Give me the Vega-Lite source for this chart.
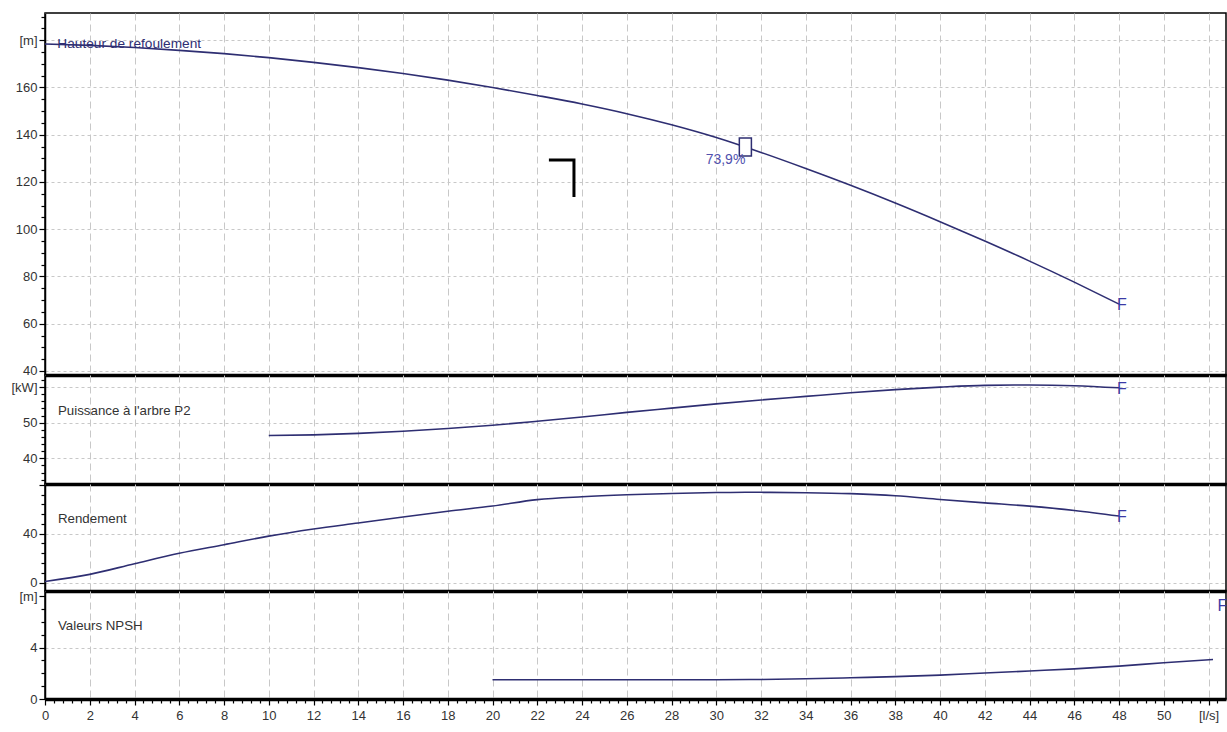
{
  "$schema": "https://vega.github.io/schema/vega-lite/v6.json",
  "background": "white",
  "padding": {"left": 6, "top": 12, "right": 2, "bottom": 0},
  "spacing": 0,
  "bounds": "flush",
  "config": {
    "font": "Liberation Sans, Arial, sans-serif",
    "view": {"stroke": "black", "strokeWidth": 1.5},
    "axis": {
      "title": null,
      "domainColor": "black",
      "domainWidth": 1.5,
      "tickColor": "black",
      "tickWidth": 1.2,
      "tickCount": 500,
      "labelColor": "#333333",
      "labelFontSize": 13,
      "labelOverlap": false,
      "labelFlush": false,
      "labelBound": false,
      "gridColor": "#c8c8c8",
      "gridWidth": 1,
      "gridDash": [3, 3]
    }
  },
  "datasets": {
    "head": [
      {"q": 0, "h": 178.4}, {"q": 2, "h": 177.8}, {"q": 4, "h": 176.9}, {"q": 6, "h": 175.7},
      {"q": 8, "h": 174.3}, {"q": 10, "h": 172.6}, {"q": 12, "h": 170.6}, {"q": 14, "h": 168.4},
      {"q": 16, "h": 165.9}, {"q": 18, "h": 163.1}, {"q": 20, "h": 160.0}, {"q": 22, "h": 156.6},
      {"q": 24, "h": 153.0}, {"q": 26, "h": 148.9}, {"q": 28, "h": 144.2}, {"q": 30, "h": 138.8},
      {"q": 32, "h": 132.5}, {"q": 34, "h": 125.7}, {"q": 36, "h": 118.6}, {"q": 38, "h": 111.1},
      {"q": 40, "h": 103.2}, {"q": 42, "h": 95.0}, {"q": 44, "h": 86.5}, {"q": 46, "h": 77.6},
      {"q": 48, "h": 68.3}
    ],
    "power": [
      {"q": 10, "p": 46.4}, {"q": 12, "p": 46.6}, {"q": 14, "p": 47.0}, {"q": 16, "p": 47.6},
      {"q": 18, "p": 48.4}, {"q": 20, "p": 49.3}, {"q": 22, "p": 50.4}, {"q": 24, "p": 51.6},
      {"q": 26, "p": 52.9}, {"q": 28, "p": 54.1}, {"q": 30, "p": 55.3}, {"q": 32, "p": 56.4},
      {"q": 34, "p": 57.4}, {"q": 36, "p": 58.4}, {"q": 38, "p": 59.3}, {"q": 40, "p": 60.0},
      {"q": 42, "p": 60.5}, {"q": 44, "p": 60.6}, {"q": 46, "p": 60.4}, {"q": 48, "p": 59.8}
    ],
    "eff": [
      {"q": 0, "e": 1.0}, {"q": 2, "e": 6.8}, {"q": 4, "e": 15.5}, {"q": 6, "e": 24.0},
      {"q": 8, "e": 31.0}, {"q": 10, "e": 38.0}, {"q": 12, "e": 43.8}, {"q": 14, "e": 48.7},
      {"q": 16, "e": 53.6}, {"q": 18, "e": 58.3}, {"q": 20, "e": 62.6}, {"q": 22, "e": 67.8},
      {"q": 24, "e": 70.2}, {"q": 26, "e": 71.8}, {"q": 28, "e": 72.9}, {"q": 30, "e": 73.6},
      {"q": 31.3, "e": 73.9}, {"q": 32, "e": 73.8}, {"q": 34, "e": 73.5}, {"q": 36, "e": 72.7},
      {"q": 38, "e": 71.0}, {"q": 40, "e": 68.0}, {"q": 42, "e": 65.2}, {"q": 44, "e": 62.5},
      {"q": 46, "e": 59.0}, {"q": 48, "e": 54.4}
    ],
    "npsh": [
      {"q": 20, "n": 1.5}, {"q": 22, "n": 1.5}, {"q": 24, "n": 1.5}, {"q": 26, "n": 1.5},
      {"q": 28, "n": 1.5}, {"q": 30, "n": 1.5}, {"q": 32, "n": 1.52}, {"q": 34, "n": 1.57},
      {"q": 36, "n": 1.65}, {"q": 38, "n": 1.74}, {"q": 40, "n": 1.86}, {"q": 42, "n": 2.02},
      {"q": 44, "n": 2.18}, {"q": 46, "n": 2.34}, {"q": 48, "n": 2.56}, {"q": 50, "n": 2.82},
      {"q": 52.2, "n": 3.07}
    ],
    "bep": [{"q": 31.3, "h": 134.8, "eff": 73.9}],
    "cursor": [{"q": 22.52, "h": 129.3}, {"q": 23.64, "h": 129.3}, {"q": 23.64, "h": 113.6}],
    "one": [{}]
  },
  "vconcat": [
    {
      "width": 1181,
      "height": 362,
      "layer": [
        {
          "data": {"name": "head"},
          "mark": {"type": "line", "color": "#2e2e72", "strokeWidth": 1.6, "interpolate": "monotone"},
          "encoding": {
            "x": {
              "field": "q", "type": "quantitative",
              "scale": {"domain": [0, 52.78], "nice": false, "zero": false},
              "axis": {
                "values": [0, 2, 4, 6, 8, 10, 12, 14, 16, 18, 20, 22, 24, 26, 28, 30, 32, 34, 36, 38, 40, 42, 44, 46, 48, 50, 52],
                "labels": false, "ticks": false, "domainWidth": 3.5, "gridDash": [7, 4],
                "minExtent": 0, "maxExtent": 0
              }
            },
            "y": {
              "field": "h", "type": "quantitative",
              "scale": {"domain": [38.3, 191.5], "nice": false, "zero": false},
              "axis": {
                "values": [40, 45, 50, 55, 60, 65, 70, 75, 80, 85, 90, 95, 100, 105, 110, 115, 120, 125, 130, 135, 140, 145, 150, 155, 160, 165, 170, 175, 180, 185, 190],
                "labelExpr": "datum.value % 20 === 0 ? (datum.value === 180 ? '[m]' : '' + datum.value) : ''",
                "labelFontSize": {"condition": {"test": "datum.value % 20 === 0", "value": 13}, "value": 0},
                "tickSize": {"condition": {"test": "datum.value % 20 === 0", "value": 6}, "value": 4},
                "gridOpacity": {"condition": {"test": "datum.value % 20 === 0", "value": 1}, "value": 0},
                "labelPadding": 2, "minExtent": 38, "maxExtent": 38
              }
            }
          }
        },
        {
          "data": {"name": "head"},
          "transform": [{"filter": "datum.q === 48"}],
          "mark": {"type": "text", "text": "F", "align": "left", "baseline": "middle", "dx": -2, "dy": 1, "fontSize": 16, "color": "#3a3aa6"},
          "encoding": {"x": {"field": "q", "type": "quantitative"}, "y": {"field": "h", "type": "quantitative"}}
        },
        {
          "data": {"name": "cursor"},
          "mark": {"type": "line", "color": "black", "strokeWidth": 3, "strokeJoin": "miter", "strokeCap": "butt"},
          "encoding": {
            "x": {"field": "q", "type": "quantitative"},
            "y": {"field": "h", "type": "quantitative"},
            "order": {"value": null}
          }
        },
        {
          "data": {"name": "bep"},
          "mark": {"type": "point", "shape": "M-0.67,-1H0.67V1H-0.67Z", "size": 324, "filled": false, "fill": "white", "fillOpacity": 1, "stroke": "#2e2e72", "strokeWidth": 1.5, "opacity": 1},
          "encoding": {"x": {"field": "q", "type": "quantitative"}, "y": {"field": "h", "type": "quantitative"}}
        },
        {
          "data": {"name": "bep"},
          "transform": [{"calculate": "replace(format(datum.eff, '.1f'), '.', ',') + '%'", "as": "lbl"}],
          "mark": {"type": "text", "align": "right", "baseline": "top", "dx": 0, "dy": 6, "fontSize": 14, "color": "#5050ad"},
          "encoding": {
            "x": {"field": "q", "type": "quantitative"},
            "y": {"field": "h", "type": "quantitative"},
            "text": {"field": "lbl"}
          }
        },
        {
          "data": {"name": "one"},
          "mark": {"type": "text", "text": "Hauteur de refoulement", "align": "left", "baseline": "middle", "fontSize": 13.7, "color": "#2e2e72"},
          "encoding": {"x": {"datum": 0.55, "type": "quantitative"}, "y": {"datum": 178.3, "type": "quantitative"}}
        }
      ]
    },
    {
      "width": 1181,
      "height": 109,
      "layer": [
        {
          "data": {"name": "power"},
          "mark": {"type": "line", "color": "#2e2e72", "strokeWidth": 1.6, "interpolate": "monotone"},
          "encoding": {
            "x": {
              "field": "q", "type": "quantitative",
              "scale": {"domain": [0, 52.78], "nice": false, "zero": false},
              "axis": {
                "values": [0, 2, 4, 6, 8, 10, 12, 14, 16, 18, 20, 22, 24, 26, 28, 30, 32, 34, 36, 38, 40, 42, 44, 46, 48, 50, 52],
                "labels": false, "ticks": false, "domainWidth": 3.5, "gridDash": [7, 4],
                "minExtent": 0, "maxExtent": 0
              }
            },
            "y": {
              "field": "p", "type": "quantitative",
              "scale": {"domain": [32.8, 63.4], "nice": false, "zero": false},
              "axis": {
                "values": [34, 36, 38, 40, 42, 44, 46, 48, 50, 52, 54, 56, 58, 60, 62],
                "labelExpr": "datum.value % 10 === 0 ? (datum.value === 60 ? '[kW]' : '' + datum.value) : ''",
                "labelFontSize": {"condition": {"test": "datum.value % 10 === 0", "value": 13}, "value": 0},
                "tickSize": {"condition": {"test": "datum.value % 10 === 0", "value": 6}, "value": 4},
                "gridOpacity": {"condition": {"test": "datum.value % 10 === 0", "value": 1}, "value": 0},
                "labelPadding": 2, "minExtent": 38, "maxExtent": 38
              }
            }
          }
        },
        {
          "data": {"name": "power"},
          "transform": [{"filter": "datum.q === 48"}],
          "mark": {"type": "text", "text": "F", "align": "left", "baseline": "middle", "dx": -2, "dy": 1, "fontSize": 16, "color": "#3a3aa6"},
          "encoding": {"x": {"field": "q", "type": "quantitative"}, "y": {"field": "p", "type": "quantitative"}}
        },
        {
          "data": {"name": "one"},
          "mark": {"type": "text", "text": "Puissance à l'arbre P2", "align": "left", "baseline": "middle", "fontSize": 13.3, "color": "#333333"},
          "encoding": {"x": {"datum": 0.58, "type": "quantitative"}, "y": {"datum": 53.3, "type": "quantitative"}}
        }
      ]
    },
    {
      "width": 1181,
      "height": 107,
      "layer": [
        {
          "data": {"name": "eff"},
          "mark": {"type": "line", "color": "#2e2e72", "strokeWidth": 1.6, "interpolate": "monotone"},
          "encoding": {
            "x": {
              "field": "q", "type": "quantitative",
              "scale": {"domain": [0, 52.78], "nice": false, "zero": false},
              "axis": {
                "values": [0, 2, 4, 6, 8, 10, 12, 14, 16, 18, 20, 22, 24, 26, 28, 30, 32, 34, 36, 38, 40, 42, 44, 46, 48, 50, 52],
                "labels": false, "ticks": false, "domainWidth": 3.5, "gridDash": [7, 4],
                "minExtent": 0, "maxExtent": 0
              }
            },
            "y": {
              "field": "e", "type": "quantitative",
              "scale": {"domain": [-6.8, 80.6], "nice": false, "zero": false},
              "axis": {
                "values": [0, 8, 16, 24, 32, 40, 48, 56, 64, 72, 80],
                "labelExpr": "datum.value === 0 || datum.value === 40 ? '' + datum.value : ''",
                "labelFontSize": {"condition": {"test": "datum.value === 0 || datum.value === 40", "value": 13}, "value": 0},
                "tickSize": {"condition": {"test": "datum.value % 40 === 0", "value": 6}, "value": 4},
                "gridOpacity": {"condition": {"test": "datum.value === 0 || datum.value === 40", "value": 1}, "value": 0},
                "labelPadding": 2, "minExtent": 38, "maxExtent": 38
              }
            }
          }
        },
        {
          "data": {"name": "eff"},
          "transform": [{"filter": "datum.q === 48"}],
          "mark": {"type": "text", "text": "F", "align": "left", "baseline": "middle", "dx": -2, "dy": 1, "fontSize": 16, "color": "#3a3aa6"},
          "encoding": {"x": {"field": "q", "type": "quantitative"}, "y": {"field": "e", "type": "quantitative"}}
        },
        {
          "data": {"name": "one"},
          "mark": {"type": "text", "text": "Rendement", "align": "left", "baseline": "middle", "fontSize": 13.3, "color": "#333333"},
          "encoding": {"x": {"datum": 0.58, "type": "quantitative"}, "y": {"datum": 52.4, "type": "quantitative"}}
        }
      ]
    },
    {
      "width": 1181,
      "height": 108,
      "layer": [
        {
          "data": {"name": "npsh"},
          "mark": {"type": "line", "color": "#2e2e72", "strokeWidth": 1.6, "interpolate": "monotone"},
          "encoding": {
            "x": {
              "field": "q", "type": "quantitative",
              "scale": {"domain": [0, 52.78], "nice": false, "zero": false},
              "axis": {
                "values": [0, 0.4, 0.8, 1.2, 1.6, 2, 2.4, 2.8, 3.2, 3.6, 4, 4.4, 4.8, 5.2, 5.6, 6, 6.4, 6.8, 7.2, 7.6, 8, 8.4, 8.8, 9.2, 9.6, 10, 10.4, 10.8, 11.2, 11.6, 12, 12.4, 12.8, 13.2, 13.6, 14, 14.4, 14.8, 15.2, 15.6, 16, 16.4, 16.8, 17.2, 17.6, 18, 18.4, 18.8, 19.2, 19.6, 20, 20.4, 20.8, 21.2, 21.6, 22, 22.4, 22.8, 23.2, 23.6, 24, 24.4, 24.8, 25.2, 25.6, 26, 26.4, 26.8, 27.2, 27.6, 28, 28.4, 28.8, 29.2, 29.6, 30, 30.4, 30.8, 31.2, 31.6, 32, 32.4, 32.8, 33.2, 33.6, 34, 34.4, 34.8, 35.2, 35.6, 36, 36.4, 36.8, 37.2, 37.6, 38, 38.4, 38.8, 39.2, 39.6, 40, 40.4, 40.8, 41.2, 41.6, 42, 42.4, 42.8, 43.2, 43.6, 44, 44.4, 44.8, 45.2, 45.6, 46, 46.4, 46.8, 47.2, 47.6, 48, 48.4, 48.8, 49.2, 49.6, 50, 50.4, 50.8, 51.2, 51.6, 52, 52.4],
                "labelExpr": "datum.value % 2 === 0 ? (datum.value === 52 ? '[l/s]' : '' + datum.value) : ''",
                "labelFontSize": {"condition": {"test": "datum.value % 2 === 0", "value": 13}, "value": 0},
                "tickSize": {"condition": {"test": "datum.value % 2 === 0", "value": 6}, "value": 4},
                "gridOpacity": {"condition": {"test": "datum.value % 2 === 0", "value": 1}, "value": 0},
                "domainWidth": 3.5, "gridDash": [7, 4], "labelPadding": 4
              }
            },
            "y": {
              "field": "n", "type": "quantitative",
              "scale": {"domain": [0, 8.4], "nice": false, "zero": false},
              "axis": {
                "values": [0, 1, 2, 3, 4, 5, 6, 7, 8],
                "labelExpr": "datum.value % 4 === 0 ? (datum.value === 8 ? '[m]' : '' + datum.value) : ''",
                "labelFontSize": {"condition": {"test": "datum.value % 4 === 0", "value": 13}, "value": 0},
                "tickSize": {"condition": {"test": "datum.value % 4 === 0", "value": 6}, "value": 4},
                "gridOpacity": {"condition": {"test": "datum.value === 4", "value": 1}, "value": 0},
                "labelPadding": 2, "minExtent": 38, "maxExtent": 38
              }
            }
          }
        },
        {
          "data": {"name": "one"},
          "mark": {"type": "text", "text": "F", "align": "left", "baseline": "middle", "fontSize": 16, "color": "#3a3aa6"},
          "encoding": {"x": {"datum": 52.4, "type": "quantitative"}, "y": {"datum": 7.2, "type": "quantitative"}}
        },
        {
          "data": {"name": "one"},
          "mark": {"type": "text", "text": "Valeurs NPSH", "align": "left", "baseline": "middle", "fontSize": 13.3, "color": "#333333"},
          "encoding": {"x": {"datum": 0.58, "type": "quantitative"}, "y": {"datum": 5.64, "type": "quantitative"}}
        }
      ]
    }
  ]
}
